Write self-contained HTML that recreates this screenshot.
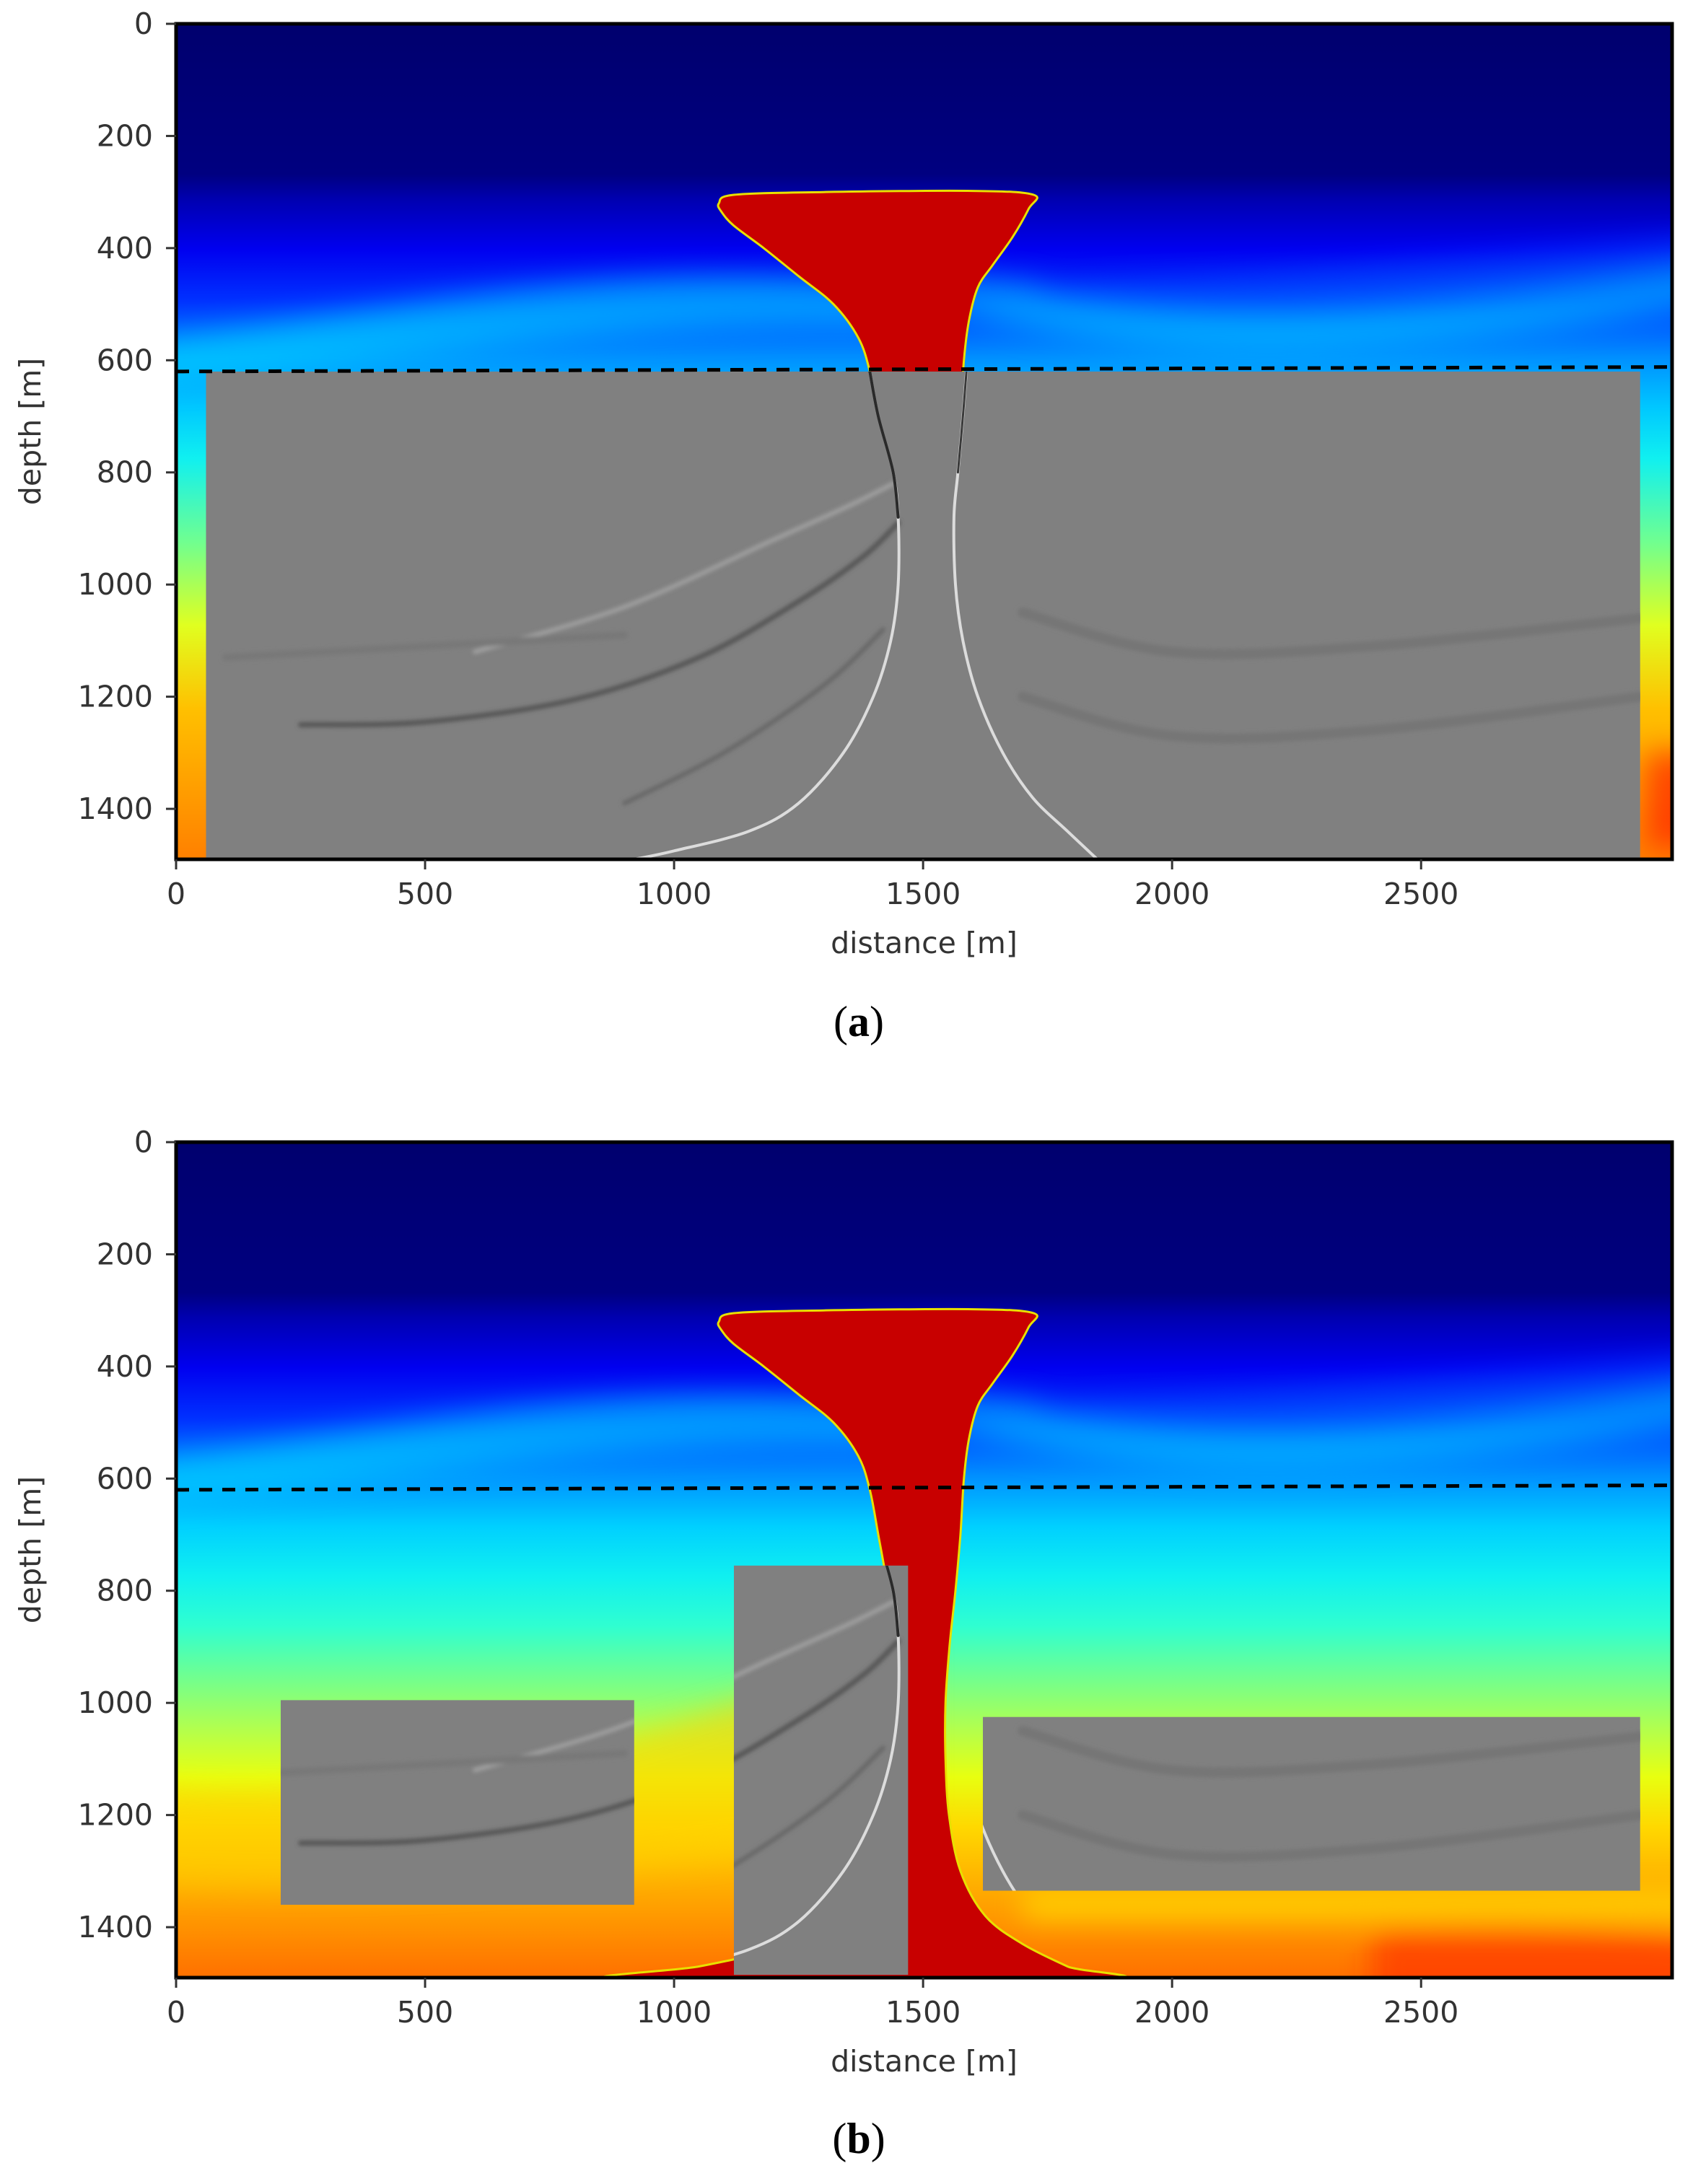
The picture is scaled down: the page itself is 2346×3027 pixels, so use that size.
<!DOCTYPE html>
<html><head><meta charset="utf-8">
<style>
html,body{margin:0;padding:0;background:#fff;}
body{width:2346px;height:3022px;overflow:hidden;font-family:"Liberation Sans",sans-serif;}
svg text{font-family:"DejaVu Sans","Liberation Sans",sans-serif;fill:#333;}
</style></head>
<body>
<svg id="fig" width="2346" height="3022" viewBox="0 0 2346 3022" xmlns="http://www.w3.org/2000/svg">
<defs>
<linearGradient id="jet" x1="0" y1="0" x2="0" y2="1">
<stop offset="0" stop-color="#00006e"/>
<stop offset="0.18" stop-color="#000080"/>
<stop offset="0.21" stop-color="#0000b0"/>
<stop offset="0.27" stop-color="#0000f0"/>
<stop offset="0.33" stop-color="#0030ff"/>
<stop offset="0.40" stop-color="#0090ff"/>
<stop offset="0.46" stop-color="#00d0ff"/>
<stop offset="0.52" stop-color="#10f0f0"/>
<stop offset="0.58" stop-color="#30ffd0"/>
<stop offset="0.64" stop-color="#70ff90"/>
<stop offset="0.70" stop-color="#b0ff50"/>
<stop offset="0.76" stop-color="#e8ff10"/>
<stop offset="0.82" stop-color="#ffd800"/>
<stop offset="0.90" stop-color="#ffa800"/>
<stop offset="1" stop-color="#ff7000"/>
</linearGradient>
<linearGradient id="jetA" x1="0" y1="0" x2="0" y2="1">
<stop offset="0" stop-color="#00006e"/>
<stop offset="0.18" stop-color="#000080"/>
<stop offset="0.21" stop-color="#0000b0"/>
<stop offset="0.27" stop-color="#0000f0"/>
<stop offset="0.33" stop-color="#0030ff"/>
<stop offset="0.40" stop-color="#0090ff"/>
<stop offset="0.46" stop-color="#00c8ff"/>
<stop offset="0.52" stop-color="#10f0f0"/>
<stop offset="0.62" stop-color="#70ff90"/>
<stop offset="0.72" stop-color="#e0ff20"/>
<stop offset="0.82" stop-color="#ffc000"/>
<stop offset="1" stop-color="#ff8000"/>
</linearGradient>
<filter id="blur20" x="-20%" y="-50%" width="140%" height="200%"><feGaussianBlur stdDeviation="20"/></filter>
<filter id="blur4"><feGaussianBlur stdDeviation="3"/></filter>
</defs>
</svg>
<script>
// ---- data ----
const xTicks = [0, 500, 1000, 1500, 2000, 2500];
const yTicks = [0, 200, 400, 600, 800, 1000, 1200, 1400];
const xMax = 3004, yMax = 1490;
const dashDepth = 620;
// salt outline: distance [m]
const saltX = [1090,1120,1300,1600,1722,1712,1680,1640,1610,1592,1582,1575,1565,1553,1545,1545,1552,1575,1625,1700,1790,1850, 900,1050,1200,1320,1420,1455,1460,1455,1445,1430,1410,1393,1370,1320,1250,1180,1120,1095];
// salt outline: depth [m]
const saltZ = [ 320, 305, 300, 298, 305, 330, 380, 430, 470, 530, 600, 700, 800, 900,1000,1100,1200,1300,1380,1430,1470,1492,1492,1470,1440,1400,1350,1250,1100,1000, 900, 800, 700, 620, 560, 500, 450, 400, 360, 335];
// panel b gray windows: [x0,x1,z0,z1]
const winX0 = [210, 1120, 1620];
const winX1 = [920, 1470, 2940];
const winZ0 = [995, 755, 1025];
const winZ1 = [1360, 1485, 1335];
// reflectors (distance, depth)
const reflDarkX = [250,500,800,1050,1250,1380,1450];
const reflDarkZ = [1250,1245,1205,1130,1030,950,890];
const refl2X = [900,1100,1300,1420];
const refl2Z = [1390,1300,1180,1080];
const refl3X = [600,900,1200,1350,1440];
const refl3Z = [1120,1040,920,860,820];
const leftEdgeX = [1393,1410,1440,1450,1450,1435,1400,1340,1250,1150,1000,920];
const leftEdgeZ = [620,700,800,880,1000,1100,1200,1300,1390,1440,1475,1490];
const rightEdgeX = [1587,1580,1570,1562,1565,1580,1610,1660,1720,1790,1850];
const rightEdgeZ = [620,700,800,880,1000,1100,1200,1300,1380,1440,1490];

const NS='http://www.w3.org/2000/svg';
const svg=document.getElementById('fig');
function mk(tag,attrs,parent){const e=document.createElementNS(NS,tag);for(const k in attrs)e.setAttribute(k,attrs[k]);(parent||svg).appendChild(e);return e;}
function smooth(pts,closed){
  // Catmull-Rom to bezier
  const n=pts.length;let d='M'+pts[0][0].toFixed(1)+','+pts[0][1].toFixed(1);
  const get=i=>closed?pts[(i+n)%n]:pts[Math.max(0,Math.min(n-1,i))];
  const lim=closed?n:n-1;
  for(let i=0;i<lim;i++){
    const p0=get(i-1),p1=get(i),p2=get(i+1),p3=get(i+2);
    const c1=[p1[0]+(p2[0]-p0[0])/6,p1[1]+(p2[1]-p0[1])/6];
    const c2=[p2[0]-(p3[0]-p1[0])/6,p2[1]-(p3[1]-p1[1])/6];
    d+=`C${c1[0].toFixed(1)},${c1[1].toFixed(1)} ${c2[0].toFixed(1)},${c2[1].toFixed(1)} ${p2[0].toFixed(1)},${p2[1].toFixed(1)}`;
  }
  return closed?d+'Z':d;
}

function panel(id, top, isA){
  const L=244,R=2317,T=top,B=top+1158;
  const sx=v=>L+v*(R-L)/xMax, sy=v=>T+v*(B-T)/yMax;
  const g=mk('g',{});
  
  
  const cp=mk('clipPath',{id:'clip'+id},g);
  mk('rect',{x:L,y:T,width:R-L,height:B-T},cp);
  const pg=mk('g',{'clip-path':'url(#clip'+id+')'},g);
  const bg=mk('rect',{x:L,y:T,width:R-L,height:B-T,fill:isA?'url(#jetA)':'url(#jet)'},pg);
  
  
  const w=mk('g',{filter:'url(#blur20)',opacity:'0.55'},pg);
  mk('path',{d:`M${sx(-100)},${sy(570)} C${sx(400)},${sy(520)} ${sx(800)},${sy(420)} ${sx(1400)},${sy(460)} L${sx(1400)},${sy(540)} C${sx(800)},${sy(530)} ${sx(400)},${sy(620)} ${sx(-100)},${sy(640)}Z`,fill:'#00e8ff'},w);
  mk('path',{d:`M${sx(1500)},${sy(420)} C${sx(2000)},${sy(560)} ${sx(2400)},${sy(520)} ${sx(3100)},${sy(430)} L${sx(3100)},${sy(500)} C${sx(2400)},${sy(600)} ${sx(2000)},${sy(620)} ${sx(1500)},${sy(500)}Z`,fill:'#00e0ff'},w);
  mk('path',{d:`M${sx(1500)},${sy(470)} C${sx(2000)},${sy(470)} ${sx(2400)},${sy(440)} ${sx(3100)},${sy(380)} L${sx(3100)},${sy(430)} C${sx(2400)},${sy(500)} ${sx(2000)},${sy(530)} ${sx(1500)},${sy(420)}Z`,fill:'#0060ff'},w);
  if(!isA){
    mk('path',{d:`M${sx(-100)},${sy(1150)} C${sx(500)},${sy(1200)} ${sx(1000)},${sy(1050)} ${sx(1500)},${sy(880)} L${sx(1500)},${sy(1200)} C${sx(1000)},${sy(1300)} ${sx(500)},${sy(1350)} ${sx(-100)},${sy(1320)}Z`,fill:'#ffd000'},w);
    mk('path',{d:`M${sx(2400)},${sy(1400)} C${sx(2700)},${sy(1380)} ${sx(2900)},${sy(1400)} ${sx(3100)},${sy(1420)} L${sx(3100)},${sy(1550)} L${sx(2400)},${sy(1550)}Z`,fill:'#ff2000'},w);
    mk('path',{d:`M${sx(1700)},${sy(1340)} L${sx(3100)},${sy(1340)} L${sx(3100)},${sy(1385)} L${sx(1700)},${sy(1385)}Z`,fill:'#ffff00'},w);
  } else {
    mk('path',{d:`M${sx(2950)},${sy(1300)} L${sx(3100)},${sy(1300)} L${sx(3100)},${sy(1470)} L${sx(2950)},${sy(1470)}Z`,fill:'#ff0000'},w);
  }
  const pts=saltX.map((x,i)=>[sx(x),sy(saltZ[i])]);
  const salt=mk('path',{d:smooth(pts,true),fill:'#c80000',stroke:'#e8e000','stroke-width':'3','stroke-linejoin':'round'},pg);
  
  
  function line(xs,zs,col,wd,parent){return mk('path',{d:smooth(xs.map((x,i)=>[sx(x),sy(zs[i])]),false),fill:'none',stroke:col,'stroke-width':wd,'stroke-linecap':'round'},parent);}
  function seismic(parent){
    const s=mk('g',{filter:'url(#blur4)'},parent);
    line(reflDarkX,reflDarkZ,'#555',7,s);
    line(refl2X,refl2Z,'#666',6,s);
    line(refl3X,refl3Z,'#a0a0a0',6,s);
    line([1700,2000,2400,2940],[1050,1120,1110,1060],'#767676',14,s);
    line([1700,2000,2400,2940],[1200,1270,1260,1200],'#767676',14,s);
    line([100,500,900],[1130,1110,1090],'#787878',10,s);
    line(leftEdgeX,leftEdgeZ,'#dcdcdc',4,parent);
    line(rightEdgeX,rightEdgeZ,'#dcdcdc',4,parent);
    line(leftEdgeX.slice(0,4),leftEdgeZ.slice(0,4),'#2a2a2a',4,parent);
    line(rightEdgeX.slice(0,3),rightEdgeZ.slice(0,3),'#3a3a3a',3,parent);
  }
  if(isA){
    const cg=mk('clipPath',{id:'cg'+id},g);
    mk('rect',{x:sx(60),y:sy(dashDepth),width:sx(2940)-sx(60),height:B-sy(dashDepth)},cg);
    const gg=mk('g',{'clip-path':'url(#cg'+id+')'},pg);
    const r=mk('rect',{x:sx(60),y:sy(dashDepth),width:sx(2940)-sx(60),height:B-sy(dashDepth),fill:'#808080'},gg);
    
    
    seismic(gg);
  } else {
    for(let i=0;i<winX0.length;i++){
      const cg=mk('clipPath',{id:'cw'+id+i},g);
      mk('rect',{x:sx(winX0[i]),y:sy(winZ0[i]),width:sx(winX1[i])-sx(winX0[i]),height:sy(winZ1[i])-sy(winZ0[i])},cg);
      const gg=mk('g',{'clip-path':'url(#cw'+id+i+')'},pg);
      const r=mk('rect',{x:sx(winX0[i]),y:sy(winZ0[i]),width:sx(winX1[i])-sx(winX0[i]),height:sy(winZ1[i])-sy(winZ0[i]),fill:'#808080'},gg);
      
      
      seismic(gg);
    }
  }
  const dl=mk('line',{x1:L,y1:sy(dashDepth),x2:R,y2:sy(dashDepth-8),stroke:'#000','stroke-width':'5','stroke-dasharray':'18,14'},g);
  
  
  const fr=mk('rect',{x:L,y:T,width:R-L,height:B-T,fill:'none',stroke:'#000','stroke-width':'5'},g);
  
  
  xTicks.forEach(v=>{
    mk('line',{x1:sx(v),y1:B,x2:sx(v),y2:B+14,stroke:'#333','stroke-width':'3'},g);
    const t=mk('text',{x:sx(v),y:B+62,'font-size':'41','text-anchor':'middle'},g);
    t.textContent=v;
    
    
  });
  yTicks.forEach(v=>{
    mk('line',{x1:L-14,y1:sy(v),x2:L,y2:sy(v),stroke:'#333','stroke-width':'3'},g);
    const t=mk('text',{x:L-32,y:sy(v)+14,'font-size':'41','text-anchor':'end'},g);
    t.textContent=v;
    
    
  });
  const xl=mk('text',{x:(L+R)/2,y:B+130,'font-size':'41','text-anchor':'middle'},g);
  xl.textContent='distance [m]';
  
  
  const yl=mk('text',{x:0,y:0,'font-size':'41','text-anchor':'middle',transform:`translate(56,${T+565}) rotate(-90)`},g);
  yl.textContent='depth [m]';
  
  
}
panel('a',33,true);
panel('b',1583,false);
function caption(txt,y,name){
  const t=mk('text',{x:1190,y:y,'font-size':'60','text-anchor':'middle',style:'font-family:"Liberation Serif",serif;fill:#000'});
  t.innerHTML=txt;
  
  
}
caption('(<tspan font-weight="bold">a</tspan>)',1436,'caption-a');
caption('(<tspan font-weight="bold">b</tspan>)',2984,'caption-b');
</script>
</body></html>
